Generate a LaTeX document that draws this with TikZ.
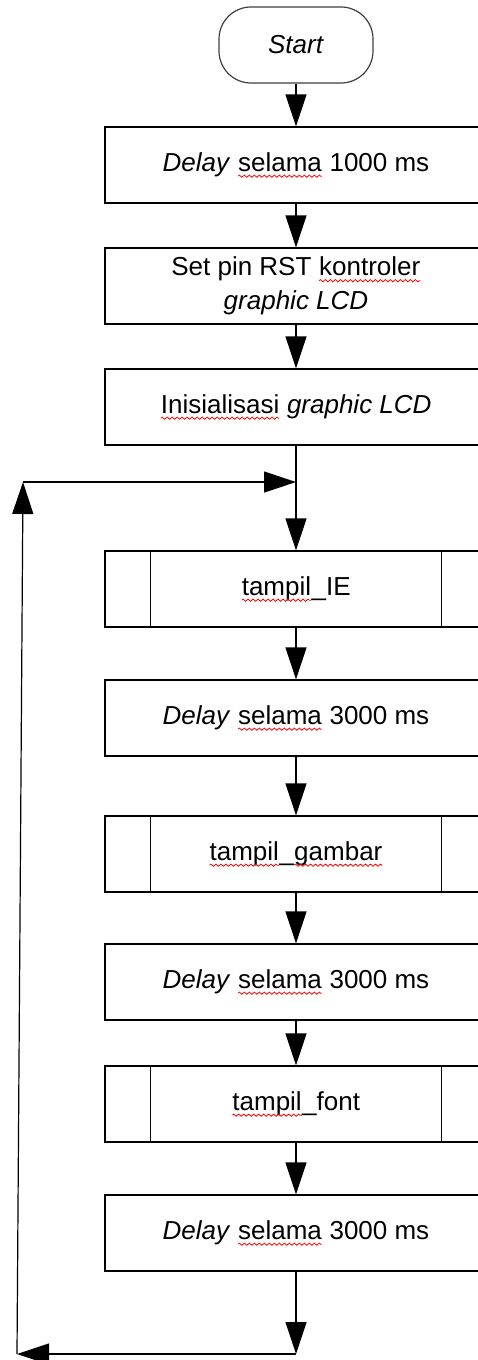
\documentclass[tikz,border=0pt]{standalone}
\usepackage{fontspec}
\setmainfont{Liberation Sans}
\usetikzlibrary{arrows.meta,decorations.pathmorphing}
\tikzset{plainw/.style={draw=none,fill=none,minimum width=0pt,minimum height=0pt,inner sep=0pt,outer sep=0pt,rounded corners=0pt,shape=rectangle}}
\newcommand{\sqw}[1]{\tikz[baseline=(w.base)]{\node[plainw](w){#1};\draw[red,line width=0.8pt,rounded corners=0pt,decorate,decoration={zigzag,amplitude=1.1pt,segment length=5pt}] ([yshift=-5pt]w.base west)--([yshift=-5pt]w.base east);}}
\begin{document}
\begin{tikzpicture}[x=1pt,y=-1pt,
  line/.style={line width=1.2pt,black},
  arr/.style={line width=1.2pt,black,-{Triangle[length=32pt,width=21pt]}},
  proc/.style={draw=black,line width=1.2pt,minimum width=382pt,minimum height=76pt,inner sep=0pt,align=center,font=\fontsize{26}{34}\selectfont},
  term/.style={draw=black!75,line width=1.2pt,rounded corners=32pt,minimum width=154pt,minimum height=76pt,inner sep=0pt,font=\fontsize{26}{34}\selectfont}]
\clip (0,0) rectangle (478,1360);
\fill[white] (0,0) rectangle (478,1360);
\node[term] (start) at (296,45) {\textit{Start}};
\node[proc] (b1) at (296,165) {\textit{Delay} \sqw{selama} 1000 ms};
\node[proc] (b2) at (296,286) {Set pin RST \sqw{kontroler}\\\textit{graphic LCD}};
\node[proc] (b3) at (296,407) {\sqw{Inisialisasi} \textit{graphic LCD}};
\node[proc] (b4) at (296,589) {\sqw{tampil}\_IE};
\node[proc] (b5) at (296,718) {\textit{Delay} \sqw{selama} 3000 ms};
\node[proc] (b6) at (296,854) {\sqw{tampil}\_\sqw{gambar}};
\node[proc] (b7) at (296,982) {\textit{Delay} \sqw{selama} 3000 ms};
\node[proc] (b8) at (296,1104) {\sqw{tampil}\_font};
\node[proc] (b9) at (296,1233) {\textit{Delay} \sqw{selama} 3000 ms};
\foreach \n in {b4,b6,b8}{
  \draw[line] ([xshift=46pt]\n.north west) -- ([xshift=46pt]\n.south west);
  \draw[line] ([xshift=-46pt]\n.north east) -- ([xshift=-46pt]\n.south east);
}
\coordinate (j) at (296,482);
\coordinate (tl) at (23,482);
\coordinate (bl) at (17,1354);
\coordinate (bb) at (296,1354);
\draw[arr] (start.south) -- (b1.north);
\draw[arr] (b1.south) -- (b2.north);
\draw[arr] (b2.south) -- (b3.north);
\draw[line] (b3.south) -- (j);
\draw[arr] (j) -- (b4.north);
\draw[arr] (b4.south) -- (b5.north);
\draw[arr] (b5.south) -- (b6.north);
\draw[arr] (b6.south) -- (b7.north);
\draw[arr] (b7.south) -- (b8.north);
\draw[arr] (b8.south) -- (b9.north);
\draw[arr] (b9.south) -- (bb);
\draw[arr] (bb) -- (bl);
\draw[arr] (bl) -- (tl);
\draw[arr] (tl) -- (j);
\end{tikzpicture}
\end{document}
